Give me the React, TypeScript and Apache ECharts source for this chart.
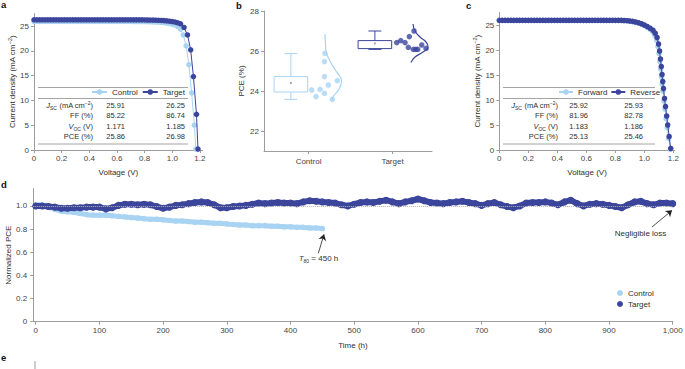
import React, { useEffect, useRef } from "react";
import * as echarts from "echarts";

const FONT = "'Liberation Sans', Arial, Helvetica, sans-serif";
const TXT = "#2f2f2f";
const LABEL_C = "#444444";
const AXIS_C = "#9d9d9d";
const CONTROL_C = "#a9d3f2";
const TARGET_C = "#3b459c";

// ---------------- panel a : J-V curves (control vs target) ----------------
const jvSweepV = [
  0, 0.02, 0.04, 0.06, 0.08, 0.1, 0.12, 0.14, 0.16, 0.18, 0.2, 0.22, 0.24, 0.26, 0.28, 0.3, 0.32, 0.34,
  0.36, 0.38, 0.4, 0.42, 0.44, 0.46, 0.48, 0.5, 0.52, 0.54, 0.56, 0.58, 0.6, 0.62, 0.64, 0.66, 0.68, 0.7,
  0.72, 0.74, 0.76, 0.78, 0.8, 0.82, 0.84, 0.86, 0.88, 0.9, 0.92, 0.94, 0.96, 0.98, 1.0, 1.02, 1.04,
];
const aControlKneeV = [1.06, 1.08, 1.1, 1.12, 1.14, 1.16, 1.171];
const aControlJ = [
  25.91, 25.91, 25.91, 25.91, 25.91, 25.91, 25.91, 25.91, 25.91, 25.91, 25.91, 25.91,
  25.91, 25.91, 25.91, 25.91, 25.91, 25.91, 25.91, 25.91, 25.91, 25.91, 25.91, 25.91,
  25.91, 25.91, 25.91, 25.91, 25.91, 25.91, 25.91, 25.91, 25.91, 25.91, 25.91, 25.91,
  25.9, 25.9, 25.89, 25.88, 25.87, 25.86, 25.84, 25.82, 25.8, 25.77, 25.73, 25.68, 25.6, 25.5, 25.38, 25.2, 24.9,
  24.35, 23.2, 21.0, 17.2, 11.5, 5.0, 0.2,
];
const aTargetKneeV = [1.06, 1.085, 1.11, 1.133, 1.153, 1.175, 1.186];
const aTargetJ = [
  26.25, 26.25, 26.25, 26.25, 26.25, 26.25, 26.25, 26.25, 26.25, 26.25, 26.25, 26.25,
  26.25, 26.25, 26.25, 26.25, 26.25, 26.25, 26.25, 26.25, 26.25, 26.25, 26.25, 26.25,
  26.25, 26.25, 26.25, 26.25, 26.25, 26.25, 26.25, 26.25, 26.25, 26.25, 26.25, 26.25,
  26.24, 26.24, 26.23, 26.23, 26.22, 26.21, 26.2, 26.19, 26.17, 26.15, 26.12, 26.08, 26.03, 25.97, 25.9, 25.8, 25.65,
  25.45, 24.7, 23.2, 20.2, 14.8, 7.2, 0.2,
];
const jvXTicks = [0, 0.2, 0.4, 0.6, 0.8, 1.0, 1.2];
const jvYTicks = [0, 5, 10, 15, 20, 25];
const tableLabels = ["{i|J}{sub|SC} (mA cm{sup|−2})", "FF (%)", "{i|V}{sub|OC} (V)", "PCE (%)"];
const aTableControl = ["25.91", "85.22", "1.171", "25.86"];
const aTableTarget = ["26.25", "86.74", "1.185", "26.98"];

// ---------------- panel b : PCE statistics ----------------
const bCategories = ["Control", "Target"];
const bYTicks = [22, 24, 26, 28];
// [category, min, q1, q3, max, mean]
const bControlBox = [0, 23.58, 23.95, 24.72, 25.87, 24.4];
const bTargetBox = [1, 26.08, 26.12, 26.52, 27.0, 26.38];
const bControlPtsX = [0.196, 0.19, 0.19, 0.236, 0.137, 0.038, 0.089, 0.19, 0.283, 0.343];
const bControlPtsY = [25.88, 25.47, 24.72, 24.3, 24.08, 24.05, 23.72, 23.88, 23.58, 24.52];
const bTargetPtsX = [1.05, 1.098, 1.149, 1.2, 1.256, 1.188, 1.248, 1.3, 1.348, 1.399, 1.276];
const bTargetPtsY = [26.42, 26.52, 26.42, 26.72, 27.0, 26.18, 26.08, 26.08, 26.3, 26.13, 26.08];
const bControlDensX = [0.196, 0.2, 0.208, 0.256, 0.327, 0.393, 0.357, 0.298, 0.28];
const bControlDensY = [26.85, 26.5, 26.0, 25.5, 25.0, 24.5, 24.05, 23.75, 23.55];
const bTargetDensX = [1.244, 1.268, 1.327, 1.399, 1.423, 1.363, 1.268, 1.22];
const bTargetDensY = [27.35, 27.0, 26.7, 26.45, 26.2, 25.95, 25.7, 25.43];

// ---------------- panel c : forward / reverse scans ----------------
const cForwardKneeV = [1.058, 1.072, 1.084, 1.094, 1.101, 1.107, 1.113, 1.118, 1.123, 1.128, 1.135, 1.142, 1.15, 1.158, 1.168, 1.179];
const cForwardJ = [
  25.92, 25.92, 25.92, 25.92, 25.92, 25.92, 25.92, 25.92, 25.92, 25.92, 25.92, 25.92,
  25.92, 25.92, 25.92, 25.92, 25.92, 25.92, 25.92, 25.92, 25.92, 25.92, 25.92, 25.92,
  25.92, 25.92, 25.92, 25.92, 25.92, 25.92, 25.92, 25.92, 25.92, 25.92, 25.92, 25.92,
  25.92, 25.92, 25.92, 25.92, 25.92, 25.92, 25.92,
  25.87, 25.82, 25.75, 25.65, 25.52, 25.36, 25.15, 24.88, 24.55, 24.15,
  23.6, 22.9, 22.0, 20.7, 19.3, 17.7, 16.2, 14.6, 13.2, 11.8, 9.8, 8.2, 6.3, 4.5, 2.3, 0.2,
];
const cReverseKneeV = [1.06, 1.075, 1.088, 1.098, 1.105, 1.111, 1.117, 1.122, 1.127, 1.132, 1.139, 1.146, 1.154, 1.161, 1.171, 1.182];
const cReverseJ = [
  25.93, 25.93, 25.93, 25.93, 25.93, 25.93, 25.93, 25.93, 25.93, 25.93, 25.93, 25.93,
  25.93, 25.93, 25.93, 25.93, 25.93, 25.93, 25.93, 25.93, 25.93, 25.93, 25.93, 25.93,
  25.93, 25.93, 25.93, 25.93, 25.93, 25.93, 25.93, 25.93, 25.93, 25.93, 25.93, 25.93,
  25.93, 25.93, 25.93, 25.93, 25.93, 25.93, 25.93,
  25.9, 25.86, 25.8, 25.72, 25.6, 25.45, 25.25, 25.0, 24.7, 24.35,
  23.95, 23.35, 22.5, 21.2, 19.8, 18.2, 16.7, 15.1, 13.7, 12.3, 10.3, 8.7, 6.8, 5.0, 2.7, 0.3,
];
const cTableControl = ["25.92", "81.96", "1.183", "25.13"];
const cTableTarget = ["25.93", "82.78", "1.186", "25.46"];

// ---------------- panel d : stability ----------------
const dTime = [
  0, 10, 20, 30, 40, 50, 60, 70, 80, 90, 100, 110, 120, 130, 140, 150, 160, 170, 180, 190,
  200, 210, 220, 230, 240, 250, 260, 270, 280, 290, 300, 310, 320, 330, 340, 350, 360, 370, 380, 390,
  400, 410, 420, 430, 440, 450, 460, 470, 480, 490, 500, 510, 520, 530, 540, 550, 560, 570, 580, 590,
  600, 610, 620, 630, 640, 650, 660, 670, 680, 690, 700, 710, 720, 730, 740, 750, 760, 770, 780, 790,
  800, 810, 820, 830, 840, 850, 860, 870, 880, 890, 900, 910, 920, 930, 940, 950, 960, 970, 980, 990, 1000,
];
const dControl = [
  1.01, 1.01, 0.99, 0.97, 0.955, 0.95, 0.945, 0.935, 0.925, 0.92,
  0.92, 0.92, 0.915, 0.91, 0.905, 0.9, 0.895, 0.89, 0.885, 0.885,
  0.88, 0.875, 0.87, 0.87, 0.865, 0.86, 0.86, 0.855, 0.85, 0.85,
  0.845, 0.84, 0.835, 0.835, 0.83, 0.83, 0.83, 0.825, 0.825, 0.82,
  0.82, 0.815, 0.815, 0.81, 0.81, 0.805,
];
const dTarget = [
  1.0, 1.0, 0.995, 0.99, 0.98, 0.98, 0.985, 0.985, 0.99, 0.99,
  0.99, 0.975, 0.985, 1.005, 1.015, 1.015, 1.01, 1.015, 1.01, 0.995,
  0.98, 0.99, 1.005, 1.01, 1.02, 1.03, 1.035, 1.03, 1.01, 0.985,
  0.985, 0.995, 1.0, 1.005, 1.015, 1.025, 1.02, 1.025, 1.03, 1.025,
  1.025, 1.02, 1.035, 1.045, 1.04, 1.035, 1.03, 1.025, 1.01, 1.0,
  1.015, 1.03, 1.035, 1.03, 1.04, 1.05, 1.035, 1.02, 1.035, 1.045,
  1.06, 1.045, 1.03, 1.025, 1.02, 1.03, 1.035, 1.04, 1.03, 1.02,
  1.005, 1.02, 1.03, 1.01, 0.995, 0.985, 1.0, 1.025, 1.03, 1.03,
  1.035, 1.025, 1.01, 1.035, 1.05, 1.02, 1.0, 1.015, 1.02, 1.015,
  1.005, 0.995, 0.985, 1.01, 1.035, 1.04, 1.02, 1.01, 1.025, 1.025,
  1.02,
];
const dXTicks = [0, 100, 200, 300, 400, 500, 600, 700, 800, 900, 1000];
const dYTicks = [0, 0.2, 0.4, 0.6, 0.8, 1.0];

// ---------------- helpers ----------------
const zip = (xs: number[], ys: number[]) => xs.map((x, i) => [x, ys[i]]);
const fmt1 = (v: number) => (v === 0 ? "0" : v.toFixed(1));

const RICH: any = {
  i: { fontStyle: "italic", fontSize: 7.5, fontFamily: FONT, fill: TXT, color: TXT, lineHeight: 10 },
  sub: { fontSize: 5, fontFamily: FONT, fill: TXT, color: TXT, lineHeight: 5, verticalAlign: "bottom" },
  sup: { fontSize: 5, fontFamily: FONT, fill: TXT, color: TXT, lineHeight: 5, verticalAlign: "top" },
};

function txt(text: string, x: number, y: number, align: string, size = 7.5, extra: any = {}) {
  return {
    type: "text",
    x,
    y,
    silent: true,
    style: {
      text,
      fontSize: size,
      fontFamily: FONT,
      fill: TXT,
      align,
      verticalAlign: "middle",
      lineHeight: 10,
      rich: RICH,
      ...extra,
    },
  };
}

function hline(x0: number, x1: number, y: number) {
  return {
    type: "line",
    silent: true,
    shape: { x1: x0, y1: y, x2: x1, y2: y },
    style: { stroke: "#8e8e8e", lineWidth: 0.8 },
  };
}

function table(x0: number, x1: number, labelX: number, c1X: number, c2X: number, col1: string[], col2: string[]) {
  const rows = [105, 115.5, 126.5, 136.5];
  const els: any[] = [hline(x0, x1, 87.5), hline(x0, x1, 98.5), hline(x0, x1, 144)];
  tableLabels.forEach((t, i) => els.push(txt(t, labelX, rows[i], "right")));
  col1.forEach((t, i) => els.push(txt(t, c1X, rows[i], "right")));
  col2.forEach((t, i) => els.push(txt(t, c2X, rows[i], "right")));
  return els;
}

function valAxis(gridIndex: number, min: number, max: number, ticks: number[], o: any = {}) {
  return {
    type: "value",
    gridIndex,
    min,
    max,
    axisLine: { show: true, onZero: false, lineStyle: { color: AXIS_C, width: 1 } },
    axisTick: { show: true, length: 3, customValues: ticks, lineStyle: { color: AXIS_C, width: 1 } },
    axisLabel: {
      show: true,
      customValues: ticks,
      color: LABEL_C,
      fontSize: 8,
      fontFamily: FONT,
      margin: o.margin ?? 4,
      formatter: o.formatter,
    },
    splitLine: { show: false },
    name: o.name,
    nameLocation: "middle",
    nameGap: o.nameGap ?? 18,
    nameRotate: o.nameRotate,
    nameMoveOverlap: false,
    nameTextStyle: {
      color: TXT,
      fontSize: 8,
      fontFamily: FONT,
      lineHeight: 10,
      rich: { sup: { fontSize: 5.5, fontFamily: FONT, color: TXT, lineHeight: 5, verticalAlign: "top" } },
    },
  };
}

function boxRenderer(color: string) {
  const SHIFT = -0.21;
  const HALF = 0.2;
  const CAP = 0.077;
  return (_params: any, api: any) => {
    const c = api.value(0) + SHIFT;
    const mn = api.value(1);
    const q1 = api.value(2);
    const q3 = api.value(3);
    const mx = api.value(4);
    const mean = api.value(5);
    const bl = api.coord([c - HALF, q1]);
    const tr = api.coord([c + HALF, q3]);
    const mid = api.coord([c, mx]);
    const lo = api.coord([c, mn]);
    const capL = api.coord([c - CAP, mx]);
    const capR = api.coord([c + CAP, mx]);
    const m = api.coord([c, mean]);
    const st = { stroke: color, lineWidth: 1, fill: "none" };
    return {
      type: "group",
      children: [
        { type: "rect", shape: { x: bl[0], y: tr[1], width: tr[0] - bl[0], height: bl[1] - tr[1] }, style: st },
        { type: "line", shape: { x1: mid[0], y1: tr[1], x2: mid[0], y2: mid[1] }, style: st },
        { type: "line", shape: { x1: capL[0], y1: mid[1], x2: capR[0], y2: mid[1] }, style: st },
        { type: "line", shape: { x1: lo[0], y1: bl[1], x2: lo[0], y2: lo[1] }, style: st },
        { type: "line", shape: { x1: capL[0], y1: lo[1], x2: capR[0], y2: lo[1] }, style: st },
        { type: "circle", shape: { cx: m[0], cy: m[1], r: 1.1 }, style: { fill: "#a0a0a0" } },
      ],
    };
  };
}

function jvSeries(name: string, gi: number, data: number[][], color: string, z: number) {
  return {
    type: "line",
    name,
    xAxisIndex: gi,
    yAxisIndex: gi,
    data,
    symbol: "circle",
    symbolSize: 5.5,
    showSymbol: true,
    showAllSymbol: true,
    lineStyle: { color, width: 1 },
    itemStyle: { color },
    z,
    silent: true,
  };
}

function buildOption(): any {
  const legendText = { fontSize: 8, fontFamily: FONT, color: TXT };
  const graphic: any[] = [
    txt("a", 1, 4, "left", 9.5, { fontWeight: "bold", fill: "#111" }),
    txt("b", 236, 5, "left", 9.5, { fontWeight: "bold", fill: "#111" }),
    txt("c", 466, 5, "left", 9.5, { fontWeight: "bold", fill: "#111" }),
    txt("d", 1, 184, "left", 9.5, { fontWeight: "bold", fill: "#111" }),
    txt("e", 1, 357, "left", 9.5, { fontWeight: "bold", fill: "#111" }),
    { type: "line", silent: true, shape: { x1: 35, y1: 361, x2: 35, y2: 369 }, style: { stroke: AXIS_C, lineWidth: 1 } },
    ...table(38, 188, 93, 125, 185, aTableControl, aTableTarget),
    ...table(503, 655, 558, 588, 643, cTableControl, cTableTarget),
    txt("{i|T}{sub|80} = 450 h", 299, 258, "left", 8),
    txt("Negligible loss", 640.5, 233, "center", 8),
  ];

  const g = (left: number, top: number, width: number, height: number) => ({
    left,
    top,
    width,
    height,
    containLabel: false,
    outerBoundsMode: "none",
  });

  return {
    animation: false,
    backgroundColor: "#ffffff",
    textStyle: { fontFamily: FONT },
    grid: [g(34, 13.6, 168.7, 136.4), g(264, 11, 168, 140), g(499.3, 12.5, 175.5, 137.5), g(33.2, 188.6, 639.5, 133.1)],
    xAxis: [
      valAxis(0, 0, 1.22, jvXTicks, { formatter: fmt1, name: "Voltage (V)", nameGap: 17 }),
      valAxis(1, -0.53, 1.47, [0, 1], {
        formatter: (v: number) => bCategories[Math.round(v)],
        margin: 6,
      }),
      valAxis(2, 0, 1.21, jvXTicks, { formatter: fmt1, name: "Voltage (V)", nameGap: 17 }),
      valAxis(3, -4, 1000, dXTicks, {
        formatter: (v: number) => v.toLocaleString("en-US"),
        name: "Time (h)",
        nameGap: 19,
        margin: 5,
      }),
    ],
    yAxis: [
      valAxis(0, 0, 27.5, jvYTicks, {
        name: "Current density (mA cm{sup|−2})",
        nameGap: 17,
        nameRotate: 90,
        margin: 5,
      }),
      valAxis(1, 21, 28, bYTicks, { name: "PCE (%)", nameGap: 18, nameRotate: 90, margin: 5 }),
      valAxis(2, 0, 27.5, jvYTicks, {
        name: "Current density (mA cm{sup|−2})",
        nameGap: 17,
        nameRotate: 90,
        margin: 5,
      }),
      valAxis(3, 0, 1.15, dYTicks, {
        formatter: fmt1,
        name: "Normalized PCE",
        nameGap: 19.5,
        nameRotate: 90,
        margin: 6,
      }),
    ],
    legend: [
      {
        data: ["Control", "Target"],
        left: 91,
        top: 88,
        padding: 0,
        itemWidth: 15,
        itemHeight: 7,
        itemGap: 4,
        selectedMode: false,
        textStyle: legendText,
      },
      {
        data: ["Forward", "Reverse"],
        left: 558,
        top: 88,
        padding: 0,
        itemWidth: 14,
        itemHeight: 7,
        itemGap: 3,
        selectedMode: false,
        textStyle: legendText,
      },
      {
        data: [
          { name: "Control", icon: "circle" },
          { name: "Target", icon: "circle" },
        ],
        orient: "vertical",
        left: 617,
        top: 288,
        padding: 0,
        itemWidth: 6,
        itemHeight: 6,
        itemGap: 1,
        selectedMode: false,
        textStyle: { ...legendText, lineHeight: 10 },
      },
    ],
    graphic,
    series: [
      // panel a
      jvSeries("Control", 0, zip(jvSweepV.concat(aControlKneeV), aControlJ), CONTROL_C, 2),
      jvSeries("Target", 0, zip(jvSweepV.concat(aTargetKneeV), aTargetJ), TARGET_C, 3),
      // panel b
      {
        type: "custom",
        xAxisIndex: 1,
        yAxisIndex: 1,
        data: [bControlBox],
        encode: { x: 0, y: [1, 2, 3, 4] },
        renderItem: boxRenderer(CONTROL_C),
        silent: true,
      },
      {
        type: "custom",
        xAxisIndex: 1,
        yAxisIndex: 1,
        data: [bTargetBox],
        encode: { x: 0, y: [1, 2, 3, 4] },
        renderItem: boxRenderer(TARGET_C),
        silent: true,
      },
      {
        type: "line",
        xAxisIndex: 1,
        yAxisIndex: 1,
        data: zip(bControlDensX, bControlDensY),
        smooth: 0.5,
        showSymbol: false,
        lineStyle: { color: CONTROL_C, width: 1.2 },
        silent: true,
      },
      {
        type: "line",
        xAxisIndex: 1,
        yAxisIndex: 1,
        data: zip(bTargetDensX, bTargetDensY),
        smooth: 0.5,
        showSymbol: false,
        lineStyle: { color: TARGET_C, width: 1.2 },
        silent: true,
      },
      {
        type: "scatter",
        xAxisIndex: 1,
        yAxisIndex: 1,
        data: zip(bControlPtsX, bControlPtsY),
        symbolSize: 5.5,
        itemStyle: { color: CONTROL_C },
        silent: true,
        z: 4,
      },
      {
        type: "scatter",
        xAxisIndex: 1,
        yAxisIndex: 1,
        data: zip(bTargetPtsX, bTargetPtsY),
        symbolSize: 5.5,
        itemStyle: { color: TARGET_C },
        silent: true,
        z: 4,
      },
      // panel c
      jvSeries("Forward", 2, zip(jvSweepV.concat(cForwardKneeV), cForwardJ), CONTROL_C, 2),
      jvSeries("Reverse", 2, zip(jvSweepV.concat(cReverseKneeV), cReverseJ), TARGET_C, 3),
      // panel d
      {
        type: "line",
        name: "Control",
        xAxisIndex: 3,
        yAxisIndex: 3,
        data: zip(dTime.slice(0, dControl.length), dControl),
        symbol: "circle",
        symbolSize: 5.5,
        showAllSymbol: true,
        lineStyle: { color: CONTROL_C, width: 5, cap: "round", join: "round" },
        itemStyle: { color: CONTROL_C },
        z: 2,
        silent: true,
        markLine: {
          silent: true,
          symbol: ["none", "arrow"],
          symbolSize: 6,
          label: { show: false },
          lineStyle: { color: "#222", width: 0.8, type: "solid" },
          data: [
            [{ coord: [443.6, 0.591] }, { coord: [452.6, 0.755] }],
            [{ coord: [967.5, 0.818] }, { coord: [999, 0.962] }],
          ],
        },
      },
      {
        type: "line",
        name: "Target",
        xAxisIndex: 3,
        yAxisIndex: 3,
        data: zip(dTime, dTarget),
        symbol: "circle",
        symbolSize: 7,
        showAllSymbol: true,
        lineStyle: { color: TARGET_C, width: 6, cap: "round", join: "round" },
        itemStyle: { color: TARGET_C },
        z: 3,
        silent: true,
        markLine: {
          silent: true,
          symbol: ["none", "none"],
          label: { show: false },
          lineStyle: { color: "#b0b0b0", width: 1, type: "dotted" },
          data: [{ yAxis: 1 }],
        },
      },
    ],
  };
}

export default function App() {
  const ref = useRef<HTMLDivElement>(null);
  useEffect(() => {
    if (!ref.current) return;
    const chart = echarts.init(ref.current, undefined, { renderer: "svg" });
    chart.setOption(buildOption());
    return () => chart.dispose();
  }, []);
  return (
    <div
      ref={ref}
      style={{ position: "absolute", left: 0, top: 0, width: 685, height: 369, background: "#fff" }}
    />
  );
}
